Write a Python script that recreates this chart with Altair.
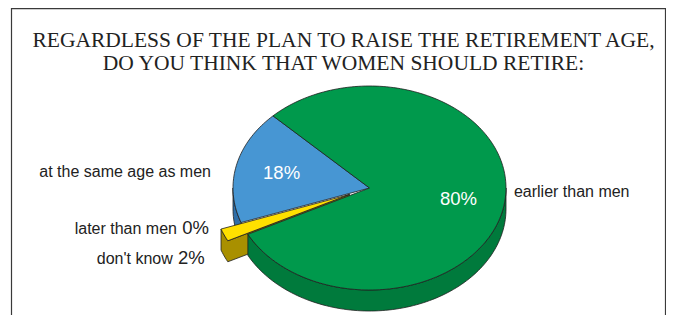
import math
import pandas as pd
import altair as alt

# ---------------- data ----------------
categories = ["at the same age as men", "later than men", "don't know", "earlier than men"]
values = [18, 0, 2, 80]
title_lines = [
    "REGARDLESS OF THE PLAN TO RAISE THE RETIREMENT AGE,",
    "DO YOU THINK THAT WOMEN SHOULD RETIRE:",
]

# ---------------- style / layout ----------------
W, H = 658, 307
CX, CY, A, B, DEPTH = 361.5, 180.0, 136.5, 102.0, 21.0
START = 135.0
EXPLODE = {"don't know": 0.16}
TOP = {
    "at the same age as men": "#4796D3",
    "later than men": "#C0392B",
    "don't know": "#FFE000",
    "earlier than men": "#00994C",
}
SIDE = {
    "at the same age as men": "#2E6EA8",
    "later than men": "#8E2A20",
    "don't know": "#A99000",
    "earlier than men": "#007A3C",
}
DRAW_ORDER = ["at the same age as men", "later than men", "don't know", "earlier than men"]
# outside label layout: (radial factor, vertical nudge)
OUT_LABEL = {
    "at the same age as men": (1.19, 10),
    "earlier than men": (1.071, -13),
    "later than men": (1.25, -3),
    "don't know": (1.155, 17),
}
INSIDE_K = 0.66
OUTLINE = "#1f1f1f"
LABEL_FS = 16
PCT_FS = 18.5

total = sum(values)
slices = {}
acc = 0.0
for c, v in zip(categories, values):
    s = START + acc / total * 360.0
    e = s + v / total * 360.0
    acc += v
    m = (s + e) / 2
    ex = EXPLODE.get(c, 0.0)
    ox = ex * A * math.cos(math.radians(m))
    oy = -ex * B * math.sin(math.radians(m))
    slices[c] = dict(v=v, s=s, e=e, m=m, ox=ox, oy=oy)


def P(phi, ox=0.0, oy=0.0, dz=0.0):
    r = math.radians(phi)
    return (CX + ox + A * math.cos(r), CY + oy - B * math.sin(r) + dz)


def arc(s, e, ox, oy, dz=0.0):
    n = max(2, int(abs(e - s) / 1.5) + 2)
    return [P(s + (e - s) * i / (n - 1), ox, oy, dz) for i in range(n)]


faces = []  # (name, color, points)
for c in DRAW_ORDER:
    d = slices[c]
    if d["v"] <= 0:
        continue
    s, e, ox, oy = d["s"], d["e"], d["ox"], d["oy"]
    apex = (CX + ox, CY + oy)
    ss, ee = max(s, 180.0), min(e, 360.0)
    if ee > ss:
        pts = arc(ss, ee, ox, oy)
        end_face = c in EXPLODE and math.cos(math.radians(e)) < 0 and ee == e
        if end_face:
            pts += [apex, (apex[0], apex[1] + DEPTH)]
        pts += list(reversed(arc(ss, ee, ox, oy, DEPTH)))
        pts.append(pts[0])
        faces.append((c + " side", SIDE[c], pts))
    pts = [apex] + arc(s, e, ox, oy) + [apex]
    faces.append((c + " top", TOP[c], pts))

xs = alt.Scale(domain=[0, W], nice=False, zero=False)
ys = alt.Scale(domain=[0, H], nice=False, zero=False, reverse=True)

layers = []
# frame (bottom edge runs off the page, as in the original)
layers.append(
    alt.Chart(pd.DataFrame({"k": [0]}))
    .mark_rect(filled=False, stroke="#3a3a3a", strokeWidth=1.2)
    .encode(x=alt.value(3.5), x2=alt.value(657.5), y=alt.value(0.6), y2=alt.value(330))
)

for name, col, pts in faces:
    df = pd.DataFrame({"x": [p[0] for p in pts], "y": [p[1] for p in pts], "seq": range(len(pts))})
    layers.append(
        alt.Chart(df)
        .mark_line(fill=col, stroke=OUTLINE, strokeWidth=0.8, strokeJoin="round")
        .encode(x=alt.X("x:Q", scale=xs, axis=None), y=alt.Y("y:Q", scale=ys, axis=None), order="seq:Q")
    )

ins = []
outs = []
for c in categories:
    d = slices[c]
    pct = f"{d['v']}%"
    if d["v"] >= 10:
        x, y = P(d["m"])
        ins.append(dict(x=CX + (x - CX) * INSIDE_K, y=CY + (y - CY) * INSIDE_K, t=pct))
    k, dy = OUT_LABEL[c]
    r = math.radians(d["m"])
    lx = CX + d["ox"] + k * A * math.cos(r)
    ly = CY + d["oy"] - k * B * math.sin(r) + dy
    right = math.cos(r) < 0
    outs.append(dict(x=lx, y=ly, t=c, pct=(pct if d["v"] < 10 else ""), right=right))

layers.append(
    alt.Chart(pd.DataFrame(ins))
    .mark_text(font="Liberation Sans", fontSize=PCT_FS, color="white", align="center", baseline="middle")
    .encode(x=alt.X("x:Q", scale=xs, axis=None), y=alt.Y("y:Q", scale=ys, axis=None), text="t:N")
)

odf = pd.DataFrame(outs)
left_side = odf[odf.right]
right_side = odf[~odf.right]
layers.append(
    alt.Chart(right_side)
    .mark_text(font="Liberation Sans", fontSize=LABEL_FS, color="#222", align="left", baseline="middle")
    .encode(x=alt.X("x:Q", scale=xs, axis=None), y=alt.Y("y:Q", scale=ys, axis=None), text="t:N")
)
lp = left_side[left_side.pct == ""]
layers.append(
    alt.Chart(lp)
    .mark_text(font="Liberation Sans", fontSize=LABEL_FS, color="#222", align="right", baseline="middle")
    .encode(x=alt.X("x:Q", scale=xs, axis=None), y=alt.Y("y:Q", scale=ys, axis=None), text="t:N")
)
lq = left_side[left_side.pct != ""]
layers.append(
    alt.Chart(lq)
    .mark_text(font="Liberation Sans", fontSize=PCT_FS, color="#222", align="right", baseline="middle")
    .encode(x=alt.X("x:Q", scale=xs, axis=None), y=alt.Y("y:Q", scale=ys, axis=None), text="pct:N")
)
layers.append(
    alt.Chart(lq)
    .mark_text(font="Liberation Sans", fontSize=LABEL_FS, color="#222", align="right", baseline="middle", dx=-32, dy=1)
    .encode(x=alt.X("x:Q", scale=xs, axis=None), y=alt.Y("y:Q", scale=ys, axis=None), text="t:N")
)

tdf = pd.DataFrame({"t": title_lines, "y": [33, 56]})
layers.append(
    alt.Chart(tdf)
    .mark_text(font="Liberation Serif", fontSize=21.5, color="#222", align="center", baseline="middle")
    .encode(x=alt.value(335.5), y=alt.Y("y:Q", scale=ys, axis=None), text="t:N")
)

chart = (
    alt.layer(*layers)
    .properties(width=W, height=H, autosize=alt.AutoSizeParams(type="none"), padding=0)
    .configure_view(stroke=None)
)
chart.save("out.html", embed_options={"renderer": "svg", "actions": False})
